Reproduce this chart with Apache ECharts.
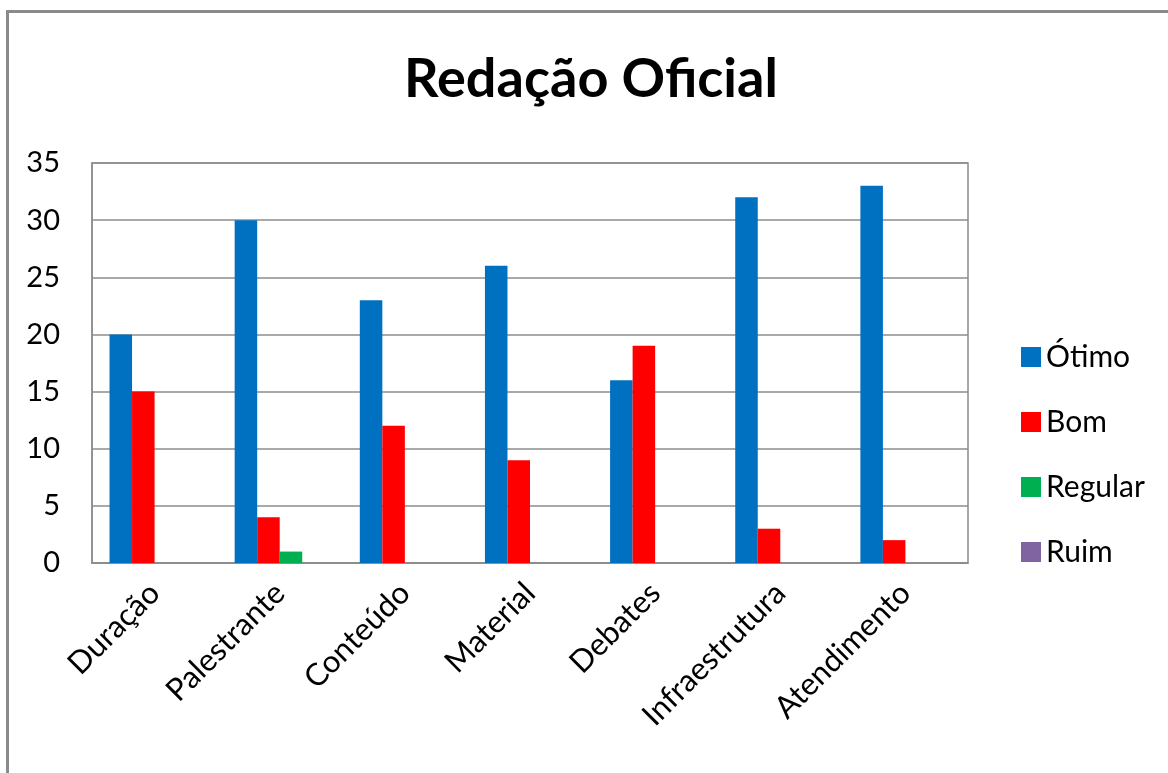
<!DOCTYPE html>
<html><head><meta charset="utf-8">
<script src="https://cdn.jsdelivr.net/npm/echarts@6/dist/echarts.min.js"></script>
<style>
html,body{margin:0;padding:0;background:#fff;}
#frame{position:absolute;left:6px;top:10px;width:1170px;height:770px;border-left:3px solid #8a8a8a;border-top:3px solid #8a8a8a;}
#c{position:absolute;left:0;top:0;width:1168px;height:773px;}
</style></head>
<body>
<div id="frame"></div>
<div id="c"></div>
<script>
const categories = ['Duração','Palestrante','Conteúdo','Material','Debates','Infraestrutura','Atendimento'];
const seriesNames = ['Ótimo','Bom','Regular','Ruim'];
const otimo = [20,30,23,26,16,32,33];
const bom = [15,4,12,9,19,3,2];
const regular = [0,1,0,0,0,0,0];
const ruim = [0,0,0,0,0,0,0];
const colors = ['#0070C0','#FF0000','#00B050','#8064A2'];
const yTicks = [0,5,10,15,20,25,30,35];

const chart = echarts.init(document.getElementById('c'));
const font = "Lato, 'Open Sans', sans-serif";
const data = [otimo, bom, regular, ruim];
chart.setOption({
  animation:false,
  backgroundColor:'transparent',
  title:{text:'Redação Oficial',left:586,textAlign:'center',top:48,
    textStyle:{fontFamily:font,fontSize:54,fontWeight:'bold',color:'#000'}},
  legend:{orient:'vertical',left:1021,top:342,padding:0,itemWidth:20,itemHeight:20,itemGap:35,
    icon:'rect',data:seriesNames,
    textStyle:{fontFamily:font,fontSize:30,color:'#000'}},
  grid:{left:92,right:200,top:163,bottom:210,containLabel:false,show:true,borderColor:'#8c8c8c',borderWidth:1.5},
  xAxis:{type:'category',data:categories,
    axisLine:{show:true,lineStyle:{color:'#8c8c8c',width:1.5}},
    axisTick:{show:false},
    axisLabel:{rotate:45,interval:0,margin:25,fontFamily:font,fontSize:31,color:'#000'},
    splitLine:{show:false}},
  yAxis:{type:'value',min:0,max:35,interval:5,
    axisLine:{show:true,lineStyle:{color:'#8c8c8c',width:1.5}},
    axisTick:{show:false},
    axisLabel:{margin:32,fontFamily:font,fontSize:29,color:'#000',
      formatter:v=>yTicks.includes(v)?String(v):''},
    splitLine:{show:true,lineStyle:{color:'#8c8c8c',width:1.5}}},
  series: seriesNames.map((n,i)=>({
    name:n,type:'bar',data:data[i],barGap:'0%',barCategoryGap:'28%',
    itemStyle:{color:colors[i]}
  }))
});
</script>
</body></html>
